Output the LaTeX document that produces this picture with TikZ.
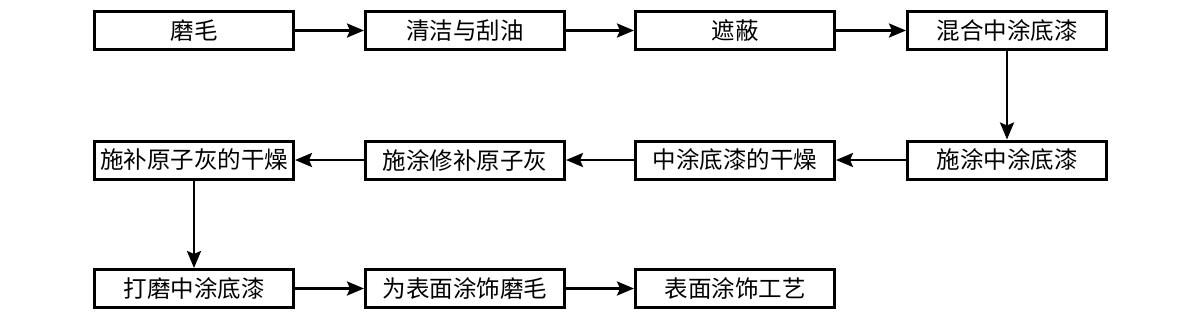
\documentclass[tikz,border=0pt]{standalone}
\usepackage{fontspec}
\newfontfamily\cjk{Noto Sans CJK SC}[Scale=1]
\usetikzlibrary{arrows.meta}
\begin{document}
\begin{tikzpicture}[x=1pt,y=-1pt,
  stepbox/.style={draw,line width=3pt,minimum width=199pt,minimum height=38pt,inner sep=0pt,
    font=\cjk\fontsize{23.5}{23.5}\selectfont},
  conn/.style={line width=2.6pt,-{Stealth[length=17pt,width=14pt,inset=3pt]}}]
\useasboundingbox (0,0) rectangle (1181,322);
\node[stepbox] (a1) at (194,30.5) {磨毛};
\node[stepbox] (a2) at (465,30.5) {清洁与刮油};
\node[stepbox] (a3) at (735,30.5) {遮蔽};
\node[stepbox] (a4) at (1007,30.5) {混合中涂底漆};
\node[stepbox] (b4) at (1007,160) {施涂中涂底漆};
\node[stepbox] (b3) at (735,160) {中涂底漆的干燥};
\node[stepbox] (b2) at (465,160) {施涂修补原子灰};
\node[stepbox] (b1) at (194,160) {施补原子灰的干燥};
\node[stepbox] (c1) at (194,288.5) {打磨中涂底漆};
\node[stepbox] (c2) at (465,288.5) {为表面涂饰磨毛};
\node[stepbox] (c3) at (735,288.5) {表面涂饰工艺};
\draw[conn] (a1) -- (a2);
\draw[conn] (a2) -- (a3);
\draw[conn] (a3) -- (a4);
\draw[conn] (a4) -- (b4);
\draw[conn] (b4) -- (b3);
\draw[conn] (b3) -- (b2);
\draw[conn] (b2) -- (b1);
\draw[conn] (b1) -- (c1);
\draw[conn] (c1) -- (c2);
\draw[conn] (c2) -- (c3);
\end{tikzpicture}
\end{document}
